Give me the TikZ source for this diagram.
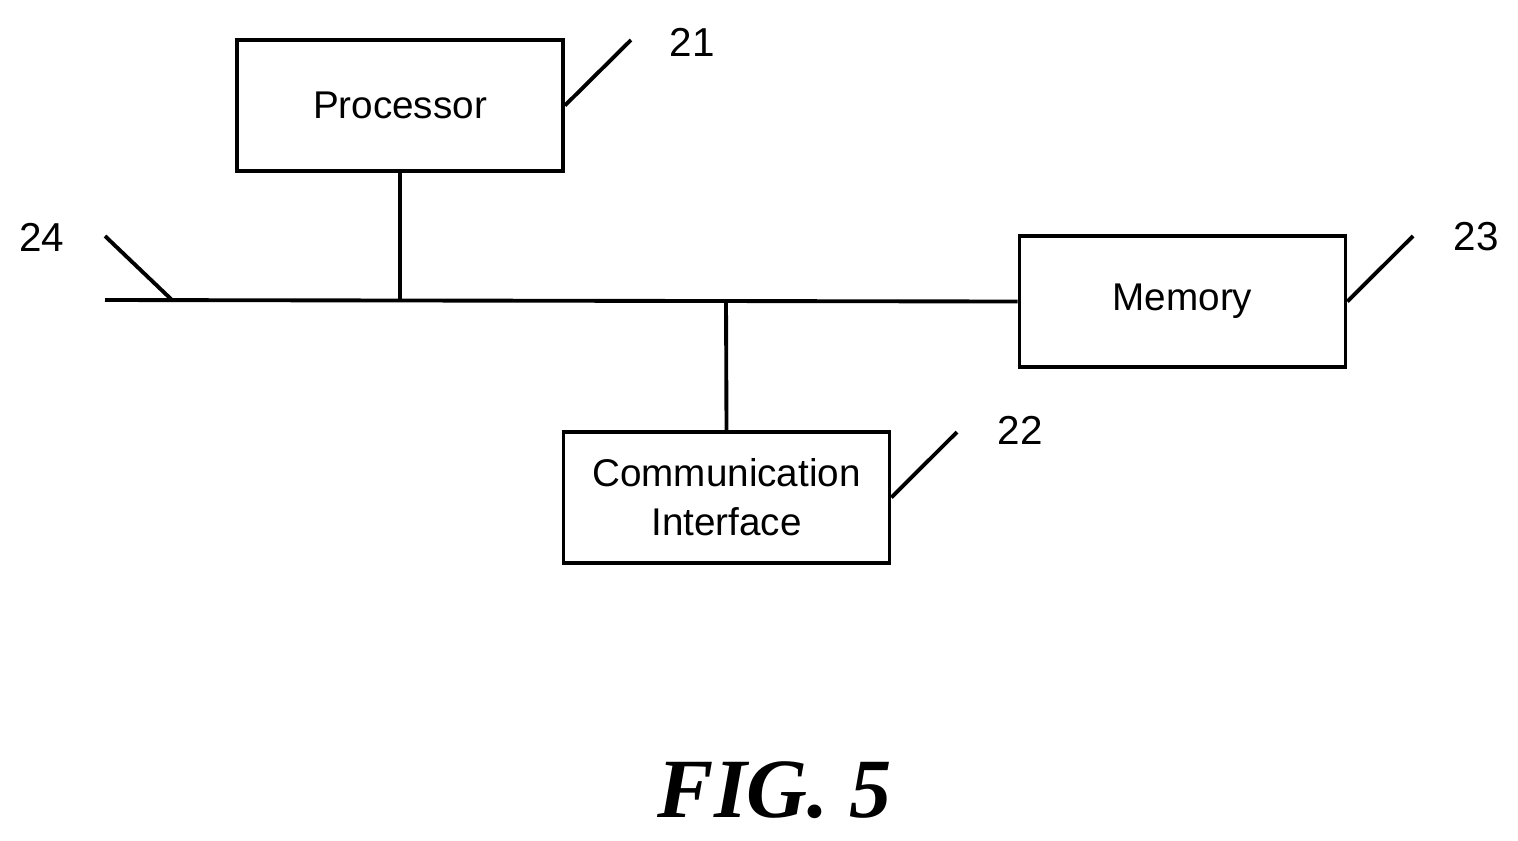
\documentclass[tikz,border=0pt]{standalone}
\usepackage{fontspec}
\setmainfont{Liberation Sans}
\newfontfamily\figfont{Liberation Serif}
\usetikzlibrary{positioning}

\begin{document}
\begin{tikzpicture}[x=0.02cm,y=-0.02cm,line width=2.2pt,
    block/.style={draw,minimum width=6.52cm,minimum height=2.62cm,align=center,
                  font=\fontsize{22}{26}\selectfont,inner sep=0pt},
    tag/.style={font=\fontsize{23}{26}\selectfont}]
    \useasboundingbox (0,0) rectangle (1518,840);

    \node[block] (proc) at (400,105.5) {Processor};
    \node[block] (mem)  at (1182.5,301.5) {Memory};
    \node[block] (comm) at (726.5,497.5) {Communication\\[2pt]Interface};

    \coordinate (busL) at (105,300);
    \coordinate (tapP) at (400,300);
    \coordinate (tapC) at (726,300);
    \coordinate (tap24) at (172,300);

    \draw (busL) -- (mem.west);
    \draw (proc.south) -- (tapP);
    \draw (comm.north) -- (tapC);

    % reference numerals
    \coordinate (e21) at (631,40);
    \coordinate (e23) at (1413,236);
    \coordinate (e22) at (957,432);
    \coordinate (e24) at (105,236);
    \draw (proc.east) -- (e21);
    \draw (mem.east) -- (e23);
    \draw (comm.east) -- (e22);
    \draw (tap24) -- (e24);
    \node[tag] (n21) at (692,42) {21};
    \node[tag] (n23) at (1476,237) {23};
    \node[tag] (n22) at (1020,430) {22};
    \node[tag] (n24) at (42,237) {24};

    \node[font=\figfont\bfseries\itshape\fontsize{48}{50}\selectfont] (fig) at (775,790) {FIG. 5};
\end{tikzpicture}
\end{document}
